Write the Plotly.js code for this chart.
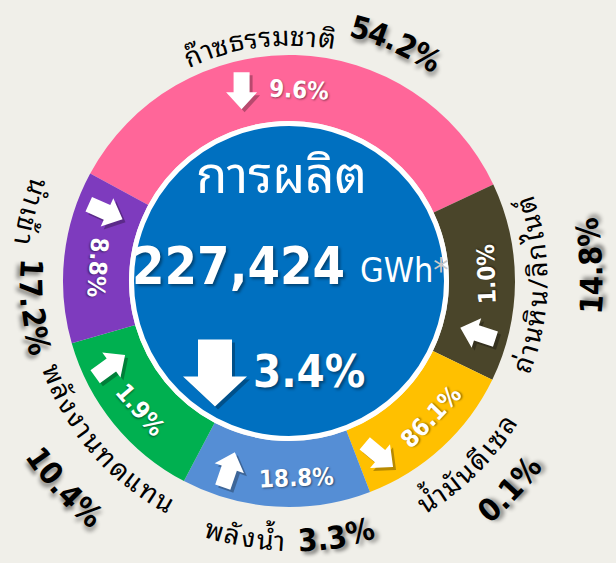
<!DOCTYPE html>
<html><head><meta charset="utf-8">
<script src="https://cdn.plot.ly/plotly-3.0.1.min.js"></script>
<style>html,body{margin:0;padding:0;background:#F0EFE9;overflow:hidden;}</style>
</head><body><div id="chart" style="width:616px;height:563px;"></div>
<script>
// ---------- DATA ----------
const categories = ['ก๊าซธรรมชาติ', 'ถ่านหิน/ลิกไนต์', 'น้ำมันดีเซล', 'พลังน้ำ', 'พลังงานทดแทน', 'นำเข้า'];
const shares = ['54.2%', '14.8%', '0.1%', '3.3%', '10.4%', '17.2%'];
const changes = ['9.6%', '1.0%', '86.1%', '18.8%', '1.9%', '8.8%'];
const changeDir = ['down', 'up', 'down', 'up', 'up', 'up'];
// visual slice sizes (degrees of the ring as drawn in the picture)
const sliceDegrees = [126.3, 51.2, 43.1, 48.7, 46.3, 44.4];
const sliceColors = ['#FF6699', '#4A452A', '#FFC000', '#558ED5', '#00B050', '#7E3BBE'];
const totalTitle = 'การผลิต';
const totalValue = '227,424';
const totalUnit = 'GWh';
const totalChange = '3.4%';
const totalChangeDir = 'down';

// ---------- LAYOUT HELPERS ----------
const W = 616, H = 563;
const CX = 289, CY = 281, R_OUT = 226, R_IN = 160;
const px = x => x / W, py = y => 1 - y / H;
const rad = d => d * Math.PI / 180;
const thaiFont = "'Noto Sans Thai Looped', 'Noto Sans Thai', 'Noto Sans Thai UI', Tahoma, 'Noto Sans', sans-serif";
const numFont = "'DejaVu Sans Condensed', 'DejaVu Sans', sans-serif";

const cvs = document.createElement('canvas');
const ctx = cvs.getContext('2d');
function measure(t, size, bold, fam) { ctx.font = (bold ? 'bold ' : '') + size + 'px ' + fam; return ctx.measureText(t).width; }
const segm = new Intl.Segmenter('th', { granularity: 'grapheme' });
const graphemes = t => Array.from(segm.segment(t), s => s.segment);
const normAng = a => { a = ((a % 360) + 360) % 360; return a > 180 ? a - 360 : a; };

const annotations = [];
const shapes = [];

function addText(x, y, text, size, opts) {
  opts = opts || {};
  annotations.push({
    x: px(x), y: py(y), xref: 'paper', yref: 'paper', showarrow: false,
    text: opts.bold ? '<b>' + text + '</b>' : text,
    textangle: opts.angle || 0, xanchor: 'center', yanchor: 'middle',
    font: { family: opts.fam || numFont, size: size, color: opts.color || 'white', shadow: opts.shadow || 'none' }
  });
}

// text along an arc; mode 'top' = clockwise upright, 'in' = counter-clockwise with tops toward centre
function curved(parts, thetaC, mode) {
  const items = []; let total = 0;
  parts.forEach((p, i) => {
    if (i > 0) total += (p.gap || 10) / p.r * 180 / Math.PI;
    graphemes(p.text).forEach(g => {
      const w = measure(g, p.size, p.bold, p.fam) + (p.ls || 0);
      items.push({ g, p, mid: total + (w / 2) / p.r * 180 / Math.PI });
      total += w / p.r * 180 / Math.PI;
    });
  });
  items.forEach(it => {
    if (it.g.trim() === '') return;
    const th = mode === 'top' ? thetaC + total / 2 - it.mid : thetaC - total / 2 + it.mid;
    const ta = mode === 'top' ? 90 - th : -90 - th;
    const x = CX + it.p.r * Math.cos(rad(th)), y = CY - it.p.r * Math.sin(rad(th));
    addText(x, y, it.g, it.p.size, { bold: it.p.bold, fam: it.p.fam, color: it.p.color || '#000', angle: normAng(ta), shadow: it.p.shadow });
  });
}

function arrowPath(cx, cy, L, HW, SW, HL, ang) {
  const pts = [[0, -L / 2], [HW / 2, -L / 2 + HL], [SW / 2, -L / 2 + HL], [SW / 2, L / 2], [-SW / 2, L / 2], [-SW / 2, -L / 2 + HL], [-HW / 2, -L / 2 + HL]];
  const c = Math.cos(rad(ang)), s = Math.sin(rad(ang));
  return 'M' + pts.map(([x, y]) => {
    const X = cx + x * c - y * s, Y = cy + x * s + y * c;
    return px(X).toFixed(5) + ',' + py(Y).toFixed(5);
  }).join(' L') + ' Z';
}
function addArrow(cx, cy, L, HW, SW, HL, ang) {
  shapes.push({ type: 'path', xref: 'paper', yref: 'paper', layer: 'above', path: arrowPath(cx + 3, cy + 3, L, HW, SW, HL, ang), fillcolor: 'rgba(0,0,0,0.28)', line: { width: 0 } });
  shapes.push({ type: 'path', xref: 'paper', yref: 'paper', layer: 'above', path: arrowPath(cx, cy, L, HW, SW, HL, ang), fillcolor: 'white', line: { width: 0 } });
}

// centre disc
const RC = 157.5;
shapes.push({ type: 'circle', xref: 'paper', yref: 'paper', layer: 'above', x0: px(CX - RC), x1: px(CX + RC), y0: py(CY + RC), y1: py(CY - RC), fillcolor: '#0070C0', line: { color: 'white', width: 5 } });

// ring labels: [theta, radius, scheme], arrows: [theta, radius, tilt]
const ringLabelPos = [[87.0, 191, 'top'], [2.0, 198, 'in'], [-43.8, 197, 'in'], [-87.7, 197, 'in'], [220.9, 197, 'in'], [176.1, 192, 'in']];
const ringArrowPos = [[104, 196, 0], [-15.5, 196, -72], [-62.7, 196, -50], [-107.7, 198, 19], [205.4, 198, 54], [159.3, 196, 114]];
const lblShadow = '1px 1px 2px rgba(0,0,0,0.45)';
changes.forEach((c, i) => {
  const [th, r, mode] = ringLabelPos[i];
  const ta = mode === 'top' ? 90 - th : -90 - th;
  addText(CX + r * Math.cos(rad(th)), CY - r * Math.sin(rad(th)), c, 24, { bold: true, angle: normAng(ta), shadow: lblShadow });
  const [ath, ar, tilt] = ringArrowPos[i];
  const base = changeDir[i] === 'up' ? 0 : 180;
  addArrow(CX + ar * Math.cos(rad(ath)), CY - ar * Math.sin(rad(ath)), 37, 31, 16, 17, base + tilt);
});

// centre text
addText(281, 170, totalTitle, 51, { fam: thaiFont });
addText(238, 266, totalValue, 52, { bold: true, shadow: '2px 2px 3px rgba(0,0,0,0.4)' });
addText(404, 270, totalUnit + '<span style="color:#C8C8C8">*</span>', 34, {});
addArrow(215, 373, 67, 64, 34, 30, totalChangeDir === 'up' ? 0 : 180);
addText(309, 371, totalChange, 45, { bold: true, shadow: '2px 2px 3px rgba(0,0,0,0.4)' });

// outer curved labels
const pctShadow = '3px 3px 4px rgba(0,0,0,0.45)';
const T = (text, r, extra) => Object.assign({ text, size: 27, bold: false, fam: thaiFont, r, ls: 1.2 }, extra || {});
const P = (text, r, extra) => Object.assign({ text, size: 31, bold: true, fam: numFont, r, shadow: pctShadow }, extra || {});
curved([T(categories[0], 248), P(shares[0], 263, { gap: 12 })], 85.3, 'top');
curved([T(categories[1], 246)], -1, 'in');
curved([P(shares[1], 303)], 2.8, 'in');
curved([T(categories[2], 257)], -45.8, 'in');
curved([P(shares[2], 304)], -43.4, 'in');
curved([T(categories[3], 257), P(shares[3], 260, { gap: 12 })], -90, 'in');
curved([T(categories[4], 250)], 221, 'in');
curved([P(shares[4], 306)], 222.5, 'in');
curved([T(categories[5], 265), P(shares[5], 258, { gap: 12 })], 177, 'in');

const data = [{
  type: 'pie', values: sliceDegrees, labels: categories, sort: false, direction: 'clockwise', rotation: -61.6,
  hole: 0.708, textinfo: 'none', hoverinfo: 'none', showlegend: false,
  marker: { colors: sliceColors, line: { width: 0 } },
  domain: { x: [px(CX - R_OUT), px(CX + R_OUT)], y: [py(CY + R_OUT), py(CY - R_OUT)] }
}];
const layout = {
  width: W, height: H, margin: { l: 0, r: 0, t: 0, b: 0 },
  paper_bgcolor: '#F0EFE9', plot_bgcolor: '#F0EFE9', showlegend: false,
  shapes, annotations
};
Plotly.newPlot('chart', data, layout, { displayModeBar: false, staticPlot: true });
</script></body></html>
